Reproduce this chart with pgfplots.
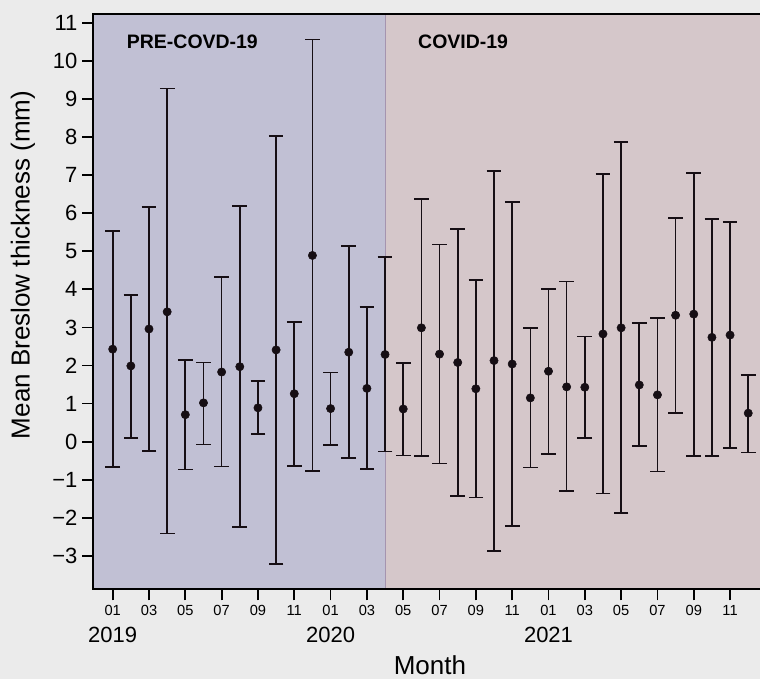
\documentclass[border=0pt]{standalone}
\usepackage{fontspec}
\setmainfont{Liberation Sans}
\usepackage{pgfplots}
\pgfplotsset{compat=1.18}
\usepackage{pgfplotstable}
\definecolor{bgc}{RGB}{235,235,235}
\definecolor{precol}{RGB}{193,192,212}
\definecolor{covcol}{RGB}{213,199,202}
\definecolor{bline}{RGB}{165,148,175}
\definecolor{barcol}{RGB}{22,14,20}
\pgfplotstableread{
x y ep em
1 2.43 3.11 3.09
2 1.99 1.87 1.89
3 2.96 3.20 3.20
4 3.41 5.86 5.82
5 0.71 1.44 1.44
6 1.02 1.06 1.09
7 1.83 2.49 2.48
8 1.97 4.21 4.21
9 0.89 0.70 0.69
10 2.41 5.62 5.62
11 1.26 1.89 1.89
12 4.89 5.67 5.66
13 0.87 0.95 0.96
14 2.35 2.79 2.78
15 1.40 2.14 2.12
16 2.29 2.56 2.55
17 0.86 1.21 1.22
18 2.99 3.38 3.37
19 2.30 2.88 2.87
20 2.08 3.51 3.51
21 1.39 2.86 2.85
22 2.13 4.98 4.99
23 2.04 4.26 4.26
24 1.15 1.83 1.83
25 1.85 2.16 2.17
26 1.44 2.77 2.74
27 1.43 1.33 1.33
28 2.83 4.19 4.19
29 2.99 4.87 4.86
30 1.49 1.62 1.61
31 1.23 2.02 2.01
32 3.32 2.55 2.57
33 3.35 3.70 3.72
34 2.74 3.11 3.12
35 2.80 2.96 2.97
36 0.75 1.01 1.03
}\data
\begin{document}
\begin{tikzpicture}
\fill[bgc] (-70.125pt,-67.5pt) rectangle (499.875pt,441.75pt);
\useasboundingbox (-70.125pt,-67.5pt) rectangle (499.875pt,441.75pt);
\begin{axis}[
  at={(0,0)}, anchor=south west,
  scale only axis, width=501.4pt, height=431.6pt,
  xmin=-0.057, xmax=36.76, ymin=-3.866, ymax=11.24,
  axis on top=true,
  axis line style={line width=1.5pt, black},
  tick align=outside, tick pos=left,
  major tick length=8.5pt,
  tick style={line width=1.3pt, black},
  xtick={1,3,...,35},
  xticklabels={01,03,05,07,09,11,01,03,05,07,09,11,01,03,05,07,09,11},
  ytick={-3,-2,...,11},
  yticklabels={−3,−2,−1,0,1,2,3,4,5,6,7,8,9,10,11},
  xticklabel style={font=\fontsize{11}{13}\selectfont},
  yticklabel style={font=\fontsize{16.5}{19}\selectfont},
  clip=false,
]
\fill[precol] (axis cs:-0.057,-3.866) rectangle (axis cs:16,11.24);
\fill[covcol] (axis cs:16,-3.866) rectangle (axis cs:36.76,11.24);
\draw[bline, line width=0.8pt] (axis cs:16,-3.866) -- (axis cs:16,11.24);
\addplot[only marks, mark=*, mark size=3.1pt, color=barcol,
  error bars/.cd, y dir=both, y explicit,
  error bar style={line width=1.25pt, barcol},
  error mark options={rotate=90, mark size=5.5pt, line width=1.25pt, barcol}]
  table[x=x, y=y, y error plus=ep, y error minus=em] {\data};
\node[anchor=west, inner sep=0, font=\bfseries\fontsize{14.6}{17}\selectfont] at (axis cs:1.77,10.49) {PRE-COVD-19};
\node[anchor=west, inner sep=0, font=\bfseries\fontsize{14.6}{17}\selectfont] at (axis cs:17.81,10.49) {COVID-19};
\node[font=\fontsize{16.5}{19}\selectfont] at (axis cs:1,-5.07) {2019};
\node[font=\fontsize{16.5}{19}\selectfont] at (axis cs:13,-5.07) {2020};
\node[font=\fontsize{16.5}{19}\selectfont] at (axis cs:25,-5.07) {2021};
\node[font=\fontsize{19.5}{22}\selectfont] at (axis cs:18.47,-5.86) {Month};
\node[rotate=90, font=\fontsize{19.5}{22}\selectfont] at (axis cs:-3.94,4.64) {Mean Breslow thickness (mm)};
\end{axis}
\end{tikzpicture}
\end{document}
